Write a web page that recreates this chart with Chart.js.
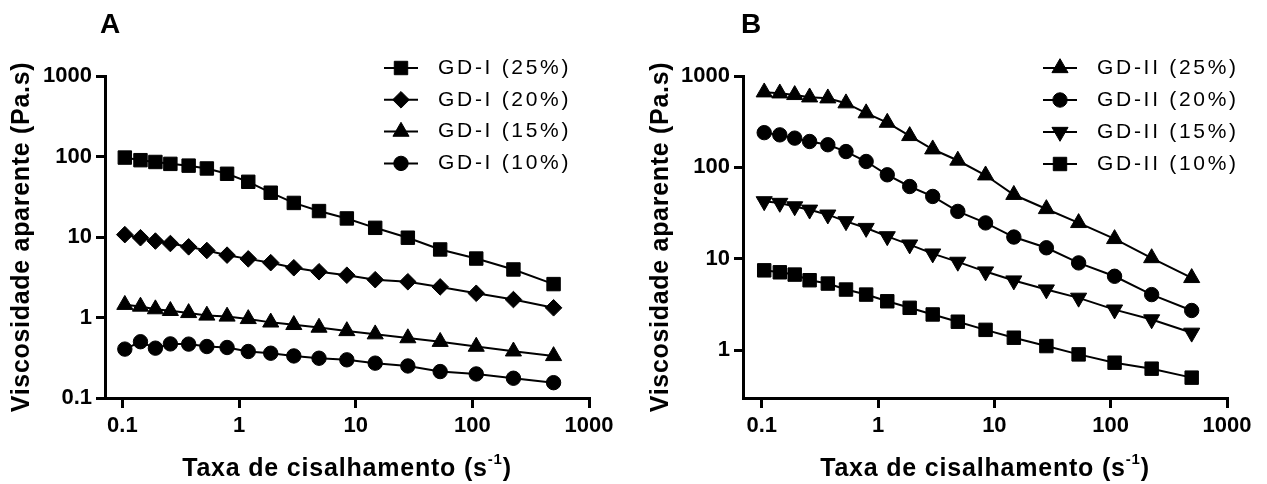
<!DOCTYPE html>
<html>
<head>
<meta charset="utf-8">
<script src="https://cdn.jsdelivr.net/npm/chart.js@4.4.1/dist/chart.umd.min.js"></script>
<style>
  html, body { margin: 0; padding: 0; background: #fff; }
  #wrap { position: relative; width: 1267px; height: 484px; }
  canvas { position: absolute; top: 0; }
  #chartA { left: 0; }
  #chartB { left: 633px; }
</style>
</head>
<body>
<div id="wrap">
  <canvas id="chartA" width="633" height="484"></canvas>
  <canvas id="chartB" width="634" height="484"></canvas>
</div>
<script>
// Datos (taxa de cisalhamento, s^-1)
const taxa = [0.105, 0.143, 0.192, 0.258, 0.37, 0.53, 0.79, 1.2, 1.87, 2.95, 4.85, 8.4, 14.7, 28, 53, 108, 225, 497];
const xTicks = [0.1, 1, 10, 100, 1000];
const yTicksA = [0.1, 1, 10, 100, 1000];
const yTicksB = [1, 10, 100, 1000];

// Painel A
const labelsA = ["GD-I (25%)", "GD-I (20%)", "GD-I (15%)", "GD-I (10%)"];
const gd1_25 = [97, 90, 85.5, 81, 77, 71, 61, 48.5, 35.5, 26.5, 21, 17, 13, 9.8, 7, 5.4, 3.95, 2.6];
const gd1_20 = [10.7, 9.8, 8.9, 8.3, 7.55, 6.8, 5.95, 5.35, 4.8, 4.15, 3.7, 3.35, 2.95, 2.78, 2.4, 2.0, 1.67, 1.32];
const gd1_15 = [1.44, 1.37, 1.27, 1.21, 1.14, 1.06, 1.03, 0.96, 0.87, 0.81, 0.75, 0.68, 0.62, 0.555, 0.5, 0.435, 0.38, 0.333];
const gd1_10 = [0.405, 0.5, 0.416, 0.47, 0.467, 0.436, 0.424, 0.378, 0.36, 0.333, 0.312, 0.298, 0.271, 0.25, 0.213, 0.199, 0.176, 0.155];

// Painel B
const labelsB = ["GD-II (25%)", "GD-II (20%)", "GD-II (15%)", "GD-II (10%)"];
const gd2_25 = [664, 647, 621, 585, 571, 504, 392, 309, 221, 158, 119, 82, 50.2, 35.1, 24.7, 16.5, 10.2, 6.18];
const gd2_20 = [240, 227, 209, 192, 177, 149, 116, 83, 61.8, 48.1, 33, 24.7, 17.3, 13.2, 9.02, 6.44, 4.06, 2.72];
const gd2_15 = [42.5, 40.8, 37.4, 34.4, 30.4, 25.7, 21.7, 17.6, 14.3, 11.4, 9.25, 7.25, 5.78, 4.61, 3.74, 2.78, 2.17, 1.55];
const gd2_10 = [7.48, 7.12, 6.72, 5.83, 5.36, 4.61, 4.06, 3.43, 2.91, 2.46, 2.05, 1.67, 1.37, 1.11, 0.9, 0.73, 0.628, 0.501];

const FONT = "'Liberation Sans', Arial, sans-serif";

const marcadores = {
  square: { pointStyle: "rect", pointRadius: 9.5, pointRotation: 0 },
  diamond: { pointStyle: "rectRot", pointRadius: 8.3, pointRotation: 0 },
  triangle: { pointStyle: "triangle", pointRadius: 9.3, pointRotation: 0 },
  triangleDown: { pointStyle: "triangle", pointRadius: 9.3, pointRotation: 180 },
  circle: { pointStyle: "circle", pointRadius: 7.2, pointRotation: 0 },
};

function serie(label, vals, marcador) {
  return {
    label,
    data: taxa.map((x, i) => ({ x, y: vals[i] })),
    borderColor: "#000",
    backgroundColor: "#000",
    borderWidth: 2,
    pointBackgroundColor: "#000",
    pointBorderColor: "#000",
    pointBorderWidth: 1,
    tension: 0,
    ...marcadores[marcador],
  };
}

// Textos extra: letra do painel, legenda e títulos dos eixos
const extras = {
  id: "extras",
  afterDraw(chart, args, o) {
    const ctx = chart.ctx;
    const area = chart.chartArea;
    ctx.save();
    ctx.fillStyle = "#000";
    ctx.strokeStyle = "#000";

    // letra
    ctx.font = "bold 28px " + FONT;
    ctx.textAlign = "left";
    ctx.textBaseline = "alphabetic";
    ctx.fillText(o.letter, o.letterX, 33);

    // legenda
    chart.data.datasets.forEach((ds, i) => {
      const y = o.legendY + i * o.legendStep;
      ctx.lineWidth = 2;
      ctx.beginPath();
      ctx.moveTo(o.legendX, y);
      ctx.lineTo(o.legendX + 34, y);
      ctx.stroke();
      ctx.lineWidth = 1;
      Chart.helpers.drawPoint(ctx, {
        pointStyle: ds.pointStyle,
        radius: ds.pointRadius,
        rotation: ds.pointRotation,
        borderWidth: 1,
      }, o.legendX + 17, y);
      ctx.font = "21px " + FONT;
      ctx.letterSpacing = "2.7px";
      ctx.textBaseline = "middle";
      ctx.fillText(ds.label, o.legendX + 54, y);
      ctx.letterSpacing = "0px";
    });

    // título eixo y
    ctx.save();
    ctx.translate(o.yTitleX, (area.top + area.bottom) / 2);
    ctx.rotate(-Math.PI / 2);
    ctx.font = "bold 25px " + FONT;
    ctx.letterSpacing = "0.7px";
    ctx.textAlign = "center";
    ctx.textBaseline = "middle";
    ctx.fillText("Viscosidade aparente (Pa.s)", 0, 0);
    ctx.restore();

    // título eixo x com expoente
    const main = "Taxa de cisalhamento (s";
    const sup = "-1";
    const fim = ")";
    ctx.letterSpacing = "0.8px";
    ctx.textBaseline = "alphabetic";
    ctx.font = "bold 25px " + FONT;
    const w1 = ctx.measureText(main).width;
    const w3 = ctx.measureText(fim).width;
    ctx.font = "bold 15px " + FONT;
    const w2 = ctx.measureText(sup).width;
    let x = (area.left + area.right) / 2 - (w1 + w2 + w3) / 2;
    const base = 476;
    ctx.font = "bold 25px " + FONT;
    ctx.fillText(main, x, base);
    x += w1;
    ctx.font = "bold 15px " + FONT;
    ctx.fillText(sup, x, base - 12);
    x += w2;
    ctx.font = "bold 25px " + FONT;
    ctx.fillText(fim, x, base);
    ctx.restore();
  },
};

function makeChart(id, datasets, cfg) {
  return new Chart(document.getElementById(id), {
    type: "line",
    data: { datasets },
    plugins: [extras],
    options: {
      responsive: false,
      animation: false,
      events: [],
      layout: { padding: { top: 76, right: cfg.padRight, bottom: 0, left: 0 } },
      plugins: {
        legend: { display: false },
        tooltip: { enabled: false },
        extras: cfg.extras,
      },
      scales: {
        x: {
          type: "logarithmic",
          min: cfg.xMin,
          max: 1000,
          afterBuildTicks: (s) => { s.ticks = xTicks.map((value) => ({ value })); },
          afterFit: (s) => { s.height = 86; },
          border: { color: "#000", width: 3 },
          grid: { drawOnChartArea: false, drawTicks: true, tickLength: 10, color: "#000", lineWidth: 3 },
          ticks: {
            autoSkip: false,
            maxRotation: 0,
            padding: 5,
            color: "#000",
            font: { family: FONT, size: 22, weight: "bold" },
            callback: (v) => String(v),
          },
        },
        y: {
          type: "logarithmic",
          min: cfg.yMin,
          max: 1000,
          afterBuildTicks: (s) => { s.ticks = cfg.yTicks.map((value) => ({ value })); },
          afterFit: (s) => { s.width = cfg.areaLeft; },
          border: { color: "#000", width: 3 },
          grid: { drawOnChartArea: false, drawTicks: true, tickLength: 9, color: "#000", lineWidth: 3 },
          ticks: {
            autoSkip: false,
            padding: 4,
            color: "#000",
            font: { family: FONT, size: 22, weight: "bold" },
            callback: (v) => String(v),
          },
        },
      },
    },
  });
}

makeChart("chartA", [
  serie(labelsA[0], gd1_25, "square"),
  serie(labelsA[1], gd1_20, "diamond"),
  serie(labelsA[2], gd1_15, "triangle"),
  serie(labelsA[3], gd1_10, "circle"),
], {
  padRight: 44, areaLeft: 105, xMin: 0.071, yMin: 0.1, yTicks: yTicksA,
  extras: { letter: "A", letterX: 100, legendX: 384, legendY: 68, legendStep: 31.8, yTitleX: 22 },
});

makeChart("chartB", [
  serie(labelsB[0], gd2_25, "triangle"),
  serie(labelsB[1], gd2_20, "circle"),
  serie(labelsB[2], gd2_15, "triangleDown"),
  serie(labelsB[3], gd2_10, "square"),
], {
  padRight: 40, areaLeft: 110, xMin: 0.069, yMin: 0.3, yTicks: yTicksB,
  extras: { letter: "B", letterX: 108, legendX: 410, legendY: 68, legendStep: 32, yTitleX: 28 },
});
</script>
</body>
</html>
